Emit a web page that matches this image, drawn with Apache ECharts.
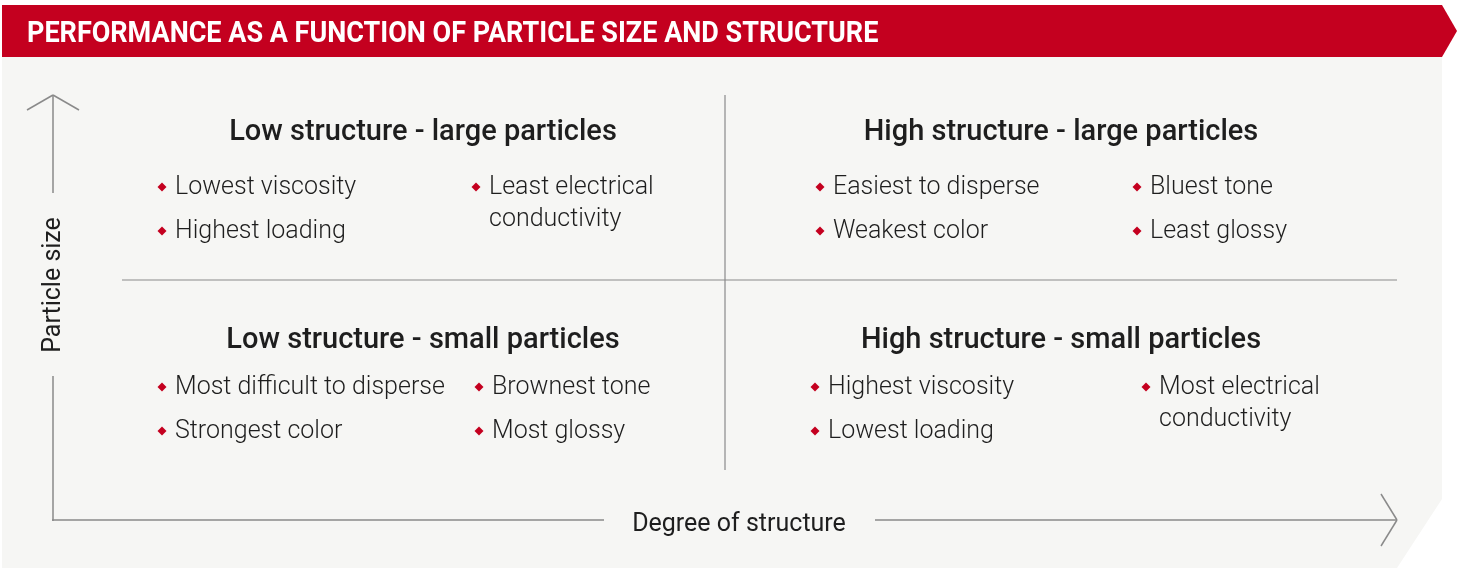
<!DOCTYPE html>
<html>
<head>
<meta charset="utf-8">
<script src="https://cdn.jsdelivr.net/npm/echarts@6/dist/echarts.min.js"></script>
<style>
  html, body { margin: 0; padding: 0; background: #fff; }
  #chart { width: 1458px; height: 568px; }
</style>
</head>
<body>
<div id="chart"></div>
<script>
// texts
const titleText = 'PERFORMANCE AS A FUNCTION OF PARTICLE SIZE AND STRUCTURE'
const xAxisName = 'Degree of structure'
const yAxisName = 'Particle size'
const quadrantTitles = [
  'Low structure - large particles',
  'High structure - large particles',
  'Low structure - small particles',
  'High structure - small particles',
]
const leftItems = [
  ['Lowest viscosity', 'Highest loading'],
  ['Easiest to disperse', 'Weakest color'],
  ['Most difficult to disperse', 'Strongest color'],
  ['Highest viscosity', 'Lowest loading'],
]
const rightItems = [
  ['Least electrical\nconductivity'],
  ['Bluest tone', 'Least glossy'],
  ['Brownest tone', 'Most glossy'],
  ['Most electrical\nconductivity'],
]

// layout per quadrant: title centre x / y, bullet row y, left and right bullet x
const layout = [
  { cx: 423, ty: 133, rows: [186, 230], lx: 162, rx: 476 },
  { cx: 1061, ty: 133, rows: [186, 230], lx: 820, rx: 1137 },
  { cx: 423, ty: 341, rows: [386, 430], lx: 162, rx: 479 },
  { cx: 1061, ty: 341, rows: [386, 430], lx: 815, rx: 1146 },
]
const RED = '#c4001f'
const INK = '#1e1e1e'
const LINE = '#8a8a8a'
const FONT = 'Roboto, "Noto Sans", sans-serif'

const g = []

// background panel with cut corner
g.push({ type: 'polygon', shape: { points: [[2, 57], [1442, 57], [1442, 499], [1397, 568], [2, 568]] }, style: { fill: '#f6f6f4' } })
// banner
g.push({ type: 'polygon', shape: { points: [[2, 5], [1442, 5], [1457, 31], [1442, 57], [2, 57]] }, style: { fill: RED } })
g.push({ type: 'text', x: 27, y: 34, scaleX: 0.9, style: { text: titleText, fill: '#fff', font: 'bold 30px ' + FONT, textVerticalAlign: 'middle' } })

// axes
const ln = (x1, y1, x2, y2, w) => ({ type: 'line', shape: { x1, y1, x2, y2 }, style: { stroke: LINE, lineWidth: w || 1.5 } })
g.push(ln(53, 95, 53, 193), ln(53, 376, 53, 521))
g.push(ln(27, 110, 53, 95), ln(53, 95, 79, 110))
g.push(ln(52, 520, 604, 520), ln(875, 520, 1397, 520))
g.push(ln(1381, 494, 1397, 520), ln(1397, 520, 1381, 546))
g.push(ln(725, 95, 725, 470, 1.2), ln(122, 280, 1397, 280, 1.2))

g.push({ type: 'text', x: 739, y: 525, style: { text: xAxisName, fill: INK, font: '25px ' + FONT, textAlign: 'center', textVerticalAlign: 'middle' } })
g.push({ type: 'text', x: 54, y: 285, rotation: Math.PI / 2, style: { text: yAxisName, fill: INK, font: '25px ' + FONT, textAlign: 'center', textVerticalAlign: 'middle' } })

// quadrants
const bullet = (x, y) => ({ type: 'polygon', shape: { points: [[x, y - 4.5], [x + 4.5, y], [x, y + 4.5], [x - 4.5, y]] }, style: { fill: RED } })
const item = (x, y, t) => ({ type: 'text', x: x + 13, y: y - 14, style: { text: t, fill: INK, font: '300 25px ' + FONT, lineHeight: 32, textVerticalAlign: 'top' } })

quadrantTitles.forEach((t, i) => {
  const L = layout[i]
  g.push({ type: 'text', x: L.cx, y: L.ty, style: { text: t, fill: INK, font: '500 29px ' + FONT, textAlign: 'center', textVerticalAlign: 'middle' } })
  leftItems[i].forEach((s, j) => { g.push(bullet(L.lx, L.rows[j] + 1), item(L.lx, L.rows[j], s)) })
  rightItems[i].forEach((s, j) => { g.push(bullet(L.rx, L.rows[j] + 1), item(L.rx, L.rows[j], s)) })
})

const chart = echarts.init(document.getElementById('chart'))
chart.setOption({ animation: false, graphic: { elements: g } })
</script>
</body>
</html>
